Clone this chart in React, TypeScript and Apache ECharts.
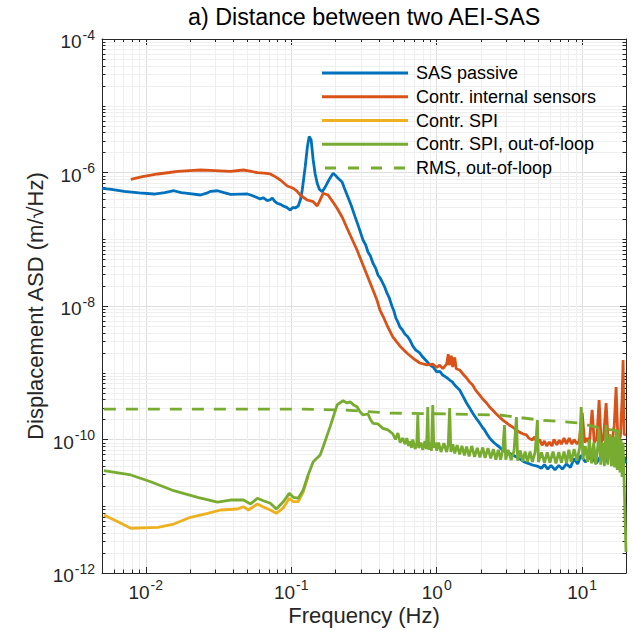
import React, { useEffect, useRef } from 'react';
import * as echarts from 'echarts';

const FONT = "'Liberation Sans', Arial, Helvetica, sans-serif";
const X_MIN = 0.005;
const X_MAX = 20;
const Y_MIN = 1e-12;
const Y_MAX = 1e-4;

const seriesNames = [
  'SAS passive',
  'Contr. internal sensors',
  'Contr. SPI',
  'Contr. SPI, out-of-loop',
  'RMS, out-of-loop',
];

const sasPassive: [number, number][] = [
  [0.005, 5.8e-7], [0.0058, 5.6e-7], [0.0071, 5.2e-7], [0.009, 4.95e-7], [0.0114, 4.76e-7], [0.0135, 5.0e-7],
  [0.0156, 5.33e-7], [0.0175, 5.0e-7], [0.0194, 4.88e-7], [0.0238, 4.6e-7], [0.0262, 4.9e-7], [0.0279, 5.22e-7],
  [0.0311, 5.33e-7], [0.0345, 5.0e-7], [0.0382, 4.71e-7], [0.045, 4.75e-7], [0.05, 4.76e-7], [0.0525, 4.6e-7],
  [0.057, 4.3e-7], [0.0613, 4.01e-7], [0.064, 4.2e-7], [0.0685, 3.78e-7], [0.0715, 3.9e-7], [0.0741, 4.15e-7],
  [0.077, 3.7e-7], [0.0802, 3.46e-7], [0.085, 3.3e-7], [0.0881, 3.15e-7], [0.093, 3.0e-7], [0.0984, 2.74e-7],
  [0.1025, 3.0e-7], [0.1064, 2.94e-7], [0.1117, 3.15e-7], [0.116, 4.0e-7], [0.119, 5.47e-7], [0.1247, 1.22e-6],
  [0.129, 2.4e-6], [0.1328, 3.46e-6], [0.137, 3.07e-6], [0.1415, 1.54e-6], [0.146, 9.5e-7], [0.1508, 6.89e-7],
  [0.156, 5.6e-7], [0.163, 5.15e-7], [0.17, 5.9e-7], [0.1765, 6.89e-7], [0.185, 8.3e-7], [0.194, 9.73e-7],
  [0.202, 9.0e-7], [0.21, 8.18e-7], [0.2236, 7.21e-7], [0.232, 5.8e-7], [0.242, 4.6e-7], [0.2577, 3.26e-7],
  [0.2744, 2.18e-7], [0.2922, 1.48e-7], [0.3112, 9.75e-8], [0.325, 8.2e-8], [0.3367, 6.44e-8], [0.35, 5.6e-8],
  [0.3646, 4.37e-8], [0.38, 3.7e-8], [0.3945, 2.91e-8], [0.41, 2.6e-8], [0.4266, 2.19e-8], [0.44, 1.9e-8],
  [0.4545, 1.57e-8], [0.47, 1.35e-8], [0.492, 1.0e-8], [0.508, 8.4e-9], [0.524, 6.6e-9], [0.54, 5.8e-9],
  [0.558, 4.84e-9], [0.58, 4.4e-9], [0.604, 3.8e-9], [0.63, 3.5e-9], [0.653, 3.1e-9], [0.685, 2.5e-9],
  [0.718, 2.19e-9], [0.76, 2.0e-9], [0.802, 1.72e-9], [0.85, 1.5e-9], [0.896, 1.31e-9], [0.95, 1.2e-9],
  [1.0, 1.03e-9], [1.05, 1.05e-9], [1.099, 9.24e-10], [1.16, 8.6e-10], [1.227, 7.78e-10], [1.28, 7.3e-10],
  [1.328, 6.55e-10], [1.38, 6.0e-10], [1.438, 5.52e-10], [1.52, 4.4e-10], [1.604, 3.52e-10], [1.68, 3.0e-10],
  [1.765, 2.49e-10], [1.86, 2.1e-10], [1.97, 1.77e-10], [2.05, 1.55e-10], [2.13, 1.39e-10], [2.22, 1.2e-10],
  [2.31, 1.05e-10], [2.4, 9.6e-11], [2.49, 8.87e-11], [2.6, 8.2e-11], [2.7, 7.72e-11], [2.85, 6.8e-11],
  [3.06, 6.5e-11], [3.25, 6.0e-11], [3.53, 5.47e-11], [3.75, 5.1e-11], [4.0, 4.6e-11], [4.25, 4.4e-11],
  [4.54, 4.15e-11], [4.9, 4.0e-11], [5.24, 3.7e-11], [5.5, 4.2e-11], [5.8, 3.6e-11], [6.1, 4.1e-11],
  [6.5, 3.5e-11], [6.9, 4.1e-11], [7.3, 3.6e-11], [7.8, 4.3e-11], [8.3, 3.8e-11], [8.8, 5.2e-11],
  [9.3, 4.3e-11], [9.8, 5.8e-11], [10.5, 4.6e-11], [11.5, 5.6e-11], [12.5, 4.4e-11], [13.5, 5.8e-11],
  [14.5, 4.6e-11], [15.5, 6.2e-11], [16.5, 4.8e-11], [17.5, 6.0e-11], [18.5, 4.5e-11], [19.5, 5.5e-11],
  [20, 4.4e-11],
];

const internalSensors: [number, number][] = [
  [0.00789, 7.91e-7], [0.0095, 8.7e-7], [0.0121, 9.5e-7], [0.0145, 1.0e-6], [0.01657, 1.04e-6], [0.02, 1.07e-6],
  [0.0238, 1.09e-6], [0.03, 1.07e-6], [0.0382, 1.04e-6], [0.0469, 1.09e-6], [0.052, 1.05e-6], [0.0585, 9.93e-7],
  [0.065, 9.8e-7], [0.0718, 9.5e-7], [0.078, 8.6e-7], [0.0841, 7.73e-7], [0.0939, 6.28e-7], [0.1032, 5.8e-7],
  [0.109, 5.3e-7], [0.1153, 4.6e-7], [0.1288, 3.87e-7], [0.1415, 3.65e-7], [0.1508, 3.15e-7], [0.158, 3.9e-7],
  [0.1657, 4.88e-7], [0.179, 4.6e-7], [0.192, 3.7e-7], [0.2066, 2.91e-7], [0.225, 2.1e-7], [0.242, 1.46e-7],
  [0.262, 1.0e-7], [0.2832, 6.9e-8], [0.3112, 4.1e-8], [0.3316, 2.91e-8], [0.3646, 1.74e-8], [0.388, 1.23e-8],
  [0.4073, 8.7e-9], [0.43, 6.84e-9], [0.4545, 5.19e-9], [0.5, 3.43e-9], [0.558, 2.52e-9], [0.623, 1.98e-9],
  [0.685, 1.66e-9], [0.765, 1.4e-9], [0.855, 1.31e-9], [0.939, 1.35e-9], [1.0, 1.2e-9], [1.048, 1.3e-9],
  [1.1, 1.15e-9], [1.17, 1.35e-9], [1.2, 1.9e-9], [1.22, 1.3e-9], [1.26, 1.8e-9], [1.287, 1.22e-9],
  [1.33, 1.7e-9], [1.36, 1.15e-9], [1.438, 1.1e-9], [1.52, 9.5e-10], [1.604, 8.34e-10], [1.68, 7.3e-10],
  [1.765, 6.55e-10], [1.86, 5.4e-10], [1.97, 4.65e-10], [2.08, 4.0e-10], [2.2, 3.52e-10], [2.3, 3.1e-10],
  [2.42, 2.77e-10], [2.55, 2.45e-10], [2.7, 2.17e-10], [2.85, 1.95e-10], [3.02, 1.77e-10], [3.15, 1.65e-10],
  [3.32, 1.54e-10], [3.5, 1.4e-10], [3.7, 1.29e-10], [3.9, 1.22e-10], [4.13, 1.17e-10], [4.3, 1.05e-10],
  [4.54, 9.8e-11], [4.7, 1.1e-10], [4.9, 8.8e-11], [5.1, 1.0e-10], [5.3, 8.2e-11], [5.5, 9.5e-11],
  [5.7, 8.0e-11], [5.94, 9.2e-11], [6.2, 8.0e-11], [6.4, 1.0e-10], [6.7, 8.3e-11], [6.96, 9.8e-11],
  [7.2, 8.5e-11], [7.5, 1.05e-10], [7.8, 8.6e-11], [8.14, 1.05e-10], [8.5, 8.5e-11], [8.8, 1.0e-10],
  [9.2, 8.6e-11], [9.54, 9.5e-11], [10.0, 2.5e-10], [10.4, 9.0e-11], [10.8, 1.05e-10], [11.2, 8.8e-11],
  [11.7, 2.77e-10], [12.1, 9.0e-11], [12.6, 1.05e-10], [13.07, 3.91e-10], [13.5, 9.0e-11], [14.0, 1.05e-10],
  [14.6, 3.52e-10], [15.1, 9.0e-11], [15.6, 1.1e-10], [16.0, 9.2e-11], [16.6, 1.6e-10], [17.1, 6.12e-10],
  [17.6, 9.6e-11], [18.3, 1.1e-10], [18.8, 4.0e-10], [19.1, 1.55e-9], [19.4, 1.2e-10], [20, 1.17e-10],
];

const spiInLoop: [number, number][] = [
  [0.00515, 7.4e-12], [0.00643, 5.88e-12], [0.00789, 4.68e-12], [0.0121, 4.84e-12], [0.01556, 5.42e-12],
  [0.0203, 6.83e-12], [0.0266, 7.83e-12], [0.0327, 8.79e-12], [0.0427, 9.1e-12], [0.0469, 9.85e-12],
  [0.0508, 8.79e-12], [0.0585, 1.08e-11], [0.0643, 9.76e-12], [0.0718, 8.79e-12], [0.0789, 7.83e-12],
  [0.0881, 9.42e-12], [0.0969, 1.32e-11], [0.1032, 1.17e-11], [0.1117, 1.17e-11], [0.1208, 1.63e-11],
  [0.1306, 2.84e-11],
];

const spiOutOfLoop: [number, number][] = [
  [0.00515, 3.41e-11], [0.00789, 2.94e-11], [0.0108, 2.33e-11], [0.01556, 1.71e-11], [0.0227, 1.36e-11],
  [0.0311, 1.15e-11], [0.0382, 1.24e-11], [0.0469, 1.24e-11], [0.0525, 1.08e-11], [0.0585, 1.32e-11],
  [0.0643, 1.21e-11], [0.0718, 1.11e-11], [0.0789, 9.1e-12], [0.0881, 1.17e-11], [0.0969, 1.56e-11],
  [0.1032, 1.36e-11], [0.1117, 1.32e-11], [0.1208, 1.75e-11], [0.1306, 2.94e-11], [0.1415, 4.65e-11],
  [0.158, 5.86e-11], [0.1657, 7.8e-11], [0.175, 1.1e-10], [0.185, 1.56e-10], [0.196, 2.3e-10],
  [0.2066, 3.29e-10], [0.227, 3.81e-10], [0.242, 3.52e-10], [0.2535, 3.68e-10], [0.268, 3.3e-10],
  [0.2832, 3.1e-10], [0.297, 2.6e-10], [0.3112, 2.33e-10], [0.3367, 2.41e-10], [0.35, 2.0e-10],
  [0.3646, 1.75e-10], [0.3945, 1.71e-10], [0.4266, 1.47e-10], [0.4616, 1.39e-10], [0.5, 1.21e-10],
  [0.52, 1.0e-10], [0.5408, 1.25e-10], [0.56, 9.0e-11], [0.585, 1.05e-10], [0.605, 8.5e-11], [0.623, 1.05e-10],
  [0.64, 8.0e-11], [0.653, 9.5e-11], [0.67, 7.5e-11], [0.685, 1.0e-10], [0.71, 7.2e-11], [0.73, 9.0e-11],
  [0.741, 2.33e-10], [0.752, 7.5e-11], [0.78, 9.0e-11], [0.802, 7.0e-11], [0.83, 9.5e-11], [0.85, 7.2e-11],
  [0.868, 3.07e-10], [0.88, 7.0e-11], [0.9, 9.0e-11], [0.92, 6.8e-11], [0.939, 3.29e-10], [0.955, 7.5e-11],
  [0.98, 9.0e-11], [1.0, 6.8e-11], [1.03, 9.0e-11], [1.07, 6.5e-11], [1.12, 8.8e-11], [1.17, 6.5e-11],
  [1.2, 8.5e-11], [1.227, 2.96e-10], [1.25, 6.5e-11], [1.29, 8.5e-11], [1.33, 6.2e-11], [1.38, 8.2e-11],
  [1.438, 6.0e-11], [1.49, 8.0e-11], [1.55, 5.8e-11], [1.604, 7.8e-11], [1.67, 5.6e-11], [1.74, 8.0e-11],
  [1.82, 5.5e-11], [1.9, 7.5e-11], [1.98, 5.4e-11], [2.07, 7.6e-11], [2.15, 5.3e-11], [2.25, 7.4e-11],
  [2.35, 5.2e-11], [2.45, 7.2e-11], [2.55, 5.0e-11], [2.65, 7.0e-11], [2.75, 5.0e-11], [2.85, 7.2e-11],
  [2.92, 1.65e-10], [2.98, 5.0e-11], [3.1, 7.0e-11], [3.25, 4.9e-11], [3.4, 6.8e-11], [3.53, 2.17e-10],
  [3.6, 4.8e-11], [3.75, 6.8e-11], [3.9, 4.7e-11], [4.05, 6.6e-11], [4.2, 4.6e-11], [4.38, 6.6e-11],
  [4.54, 4.6e-11], [4.75, 6.5e-11], [4.92, 1.96e-10], [5.0, 4.6e-11], [5.25, 6.4e-11], [5.5, 4.5e-11],
  [5.75, 6.4e-11], [6.0, 4.5e-11], [6.3, 6.6e-11], [6.6, 4.4e-11], [6.9, 6.5e-11], [7.2, 4.5e-11],
  [7.5, 6.6e-11], [7.8, 4.4e-11], [8.1, 7.0e-11], [8.4, 4.6e-11], [8.8, 7.2e-11], [9.2, 4.8e-11],
  [9.6, 7.5e-11], [9.84, 3.07e-10], [10.1, 5.0e-11], [10.5, 8.0e-11], [10.9, 4.6e-11], [11.2, 1.0e-10],
  [11.6, 4.4e-11], [12.0, 9.0e-11], [12.4, 4.2e-11], [12.8, 8.0e-11], [13.07, 1.39e-10], [13.4, 4.2e-11],
  [13.8, 9.0e-11], [14.2, 4.0e-11], [14.6, 1.65e-10], [15.0, 4.2e-11], [15.5, 1.2e-10], [15.9, 4.0e-11],
  [16.3, 1.1e-10], [16.7, 3.8e-11], [17.1, 1.3e-10], [17.4, 3.5e-11], [17.8, 1.4e-10], [18.2, 3.2e-11],
  [18.5, 1.0e-10], [18.8, 2.74e-11], [19.1, 9.0e-11], [19.5, 1.58e-11], [20, 2.07e-12],
];

const rmsOutOfLoop: [number, number][] = [
  [0.00515, 2.86e-10], [0.0238, 2.86e-10], [0.1153, 2.86e-10], [0.227, 2.77e-10], [0.4766, 2.49e-10],
  [1.227, 2.41e-10], [2.7, 2.33e-10], [5.07, 1.96e-10], [9.54, 1.77e-10], [13.07, 1.49e-10], [19.7, 1.29e-10],
];

const seriesData = [sasPassive, internalSensors, spiInLoop, spiOutOfLoop, rmsOutOfLoop];
const seriesColors = ['#0072BD', '#D95319', '#EDB120', '#77AC30', '#77AC30'];

const GRID = { left: 102, top: 39, width: 524, height: 534 };
const AXIS_COLOR = '#262626';
const MAJOR_GRID = '#dedede';
const MINOR_GRID = '#efefef';
const DASH_ICON = 'path://M0,0h11v3h-11z M23,0h11v3h-11z M46,0h11v3h-11z M69,0h11v3h-11z';

function minorValues(lo: number, hi: number, fromExp: number, toExp: number, oddDecades: boolean) {
  const out: number[] = [];
  for (let d = fromExp; d <= toExp; d++) {
    for (let k = 1; k <= 9; k++) {
      if (k === 1 && !(oddDecades && Math.abs(d) % 2 === 1)) continue;
      const v = k * Math.pow(10, d);
      if (v > lo * 1.0001 && v < hi * 0.9999) out.push(v);
    }
  }
  return out;
}

const xMinor = minorValues(X_MIN, X_MAX, -3, 1, false);
const yMinor = minorValues(Y_MIN, Y_MAX, -12, -5, true);

function expLabel(v: number, every: number) {
  const e = Math.round(Math.log10(v));
  if (Math.abs(v / Math.pow(10, e) - 1) > 1e-6) return '';
  if (e % every !== 0) return '';
  return `{b|10}{s|${e}}`;
}

const labelRich = {
  b: { fontSize: 19, fontFamily: FONT, color: AXIS_COLOR, verticalAlign: 'middle', padding: [0, 0, 3, 0] },
  s: { fontSize: 14, fontFamily: FONT, color: AXIS_COLOR, verticalAlign: 'middle', padding: [0, 0, 17, 1] },
};

export default function App() {
  const ref = useRef<HTMLDivElement>(null);
  useEffect(() => {
    if (!ref.current) return;
    const chart = echarts.init(ref.current, null, { renderer: 'svg' });

    const lineSeries = seriesNames.map((name, i) => ({
      name,
      type: 'line',
      data: seriesData[i],
      symbol: 'none',
      showSymbol: false,
      z: 3,
      lineStyle: {
        color: seriesColors[i],
        width: 2.8,
        type: i === 4 ? [12, 10] : 'solid',
      },
      itemStyle: { color: seriesColors[i] },
      emphasis: { disabled: true },
    }));

    const xMinorSeries = {
      type: 'custom',
      silent: true,
      z: 1,
      data: xMinor.map((v) => [v, Y_MIN]),
      encode: { x: 0, y: 1 },
      renderItem: (_p: any, api: any) => {
        const v = api.value(0);
        const b = api.coord([v, Y_MIN]);
        const t = api.coord([v, Y_MAX]);
        const x = Math.round(b[0]) + 0.5;
        return {
          type: 'group',
          children: [
            { type: 'line', shape: { x1: x, y1: t[1], x2: x, y2: b[1] }, style: { stroke: MINOR_GRID, lineWidth: 1 } },
            { type: 'line', shape: { x1: x, y1: b[1], x2: x, y2: b[1] - 3.5 }, style: { stroke: AXIS_COLOR, lineWidth: 1 } },
            { type: 'line', shape: { x1: x, y1: t[1], x2: x, y2: t[1] + 3.5 }, style: { stroke: AXIS_COLOR, lineWidth: 1 } },
          ],
        };
      },
    };

    const yMinorSeries = {
      type: 'custom',
      silent: true,
      z: 1,
      data: yMinor.map((v) => [X_MIN, v]),
      encode: { x: 0, y: 1 },
      renderItem: (_p: any, api: any) => {
        const v = api.value(1);
        const l = api.coord([X_MIN, v]);
        const r = api.coord([X_MAX, v]);
        const y = Math.round(l[1]) + 0.5;
        return {
          type: 'group',
          children: [
            { type: 'line', shape: { x1: l[0], y1: y, x2: r[0], y2: y }, style: { stroke: MINOR_GRID, lineWidth: 1 } },
            { type: 'line', shape: { x1: l[0], y1: y, x2: l[0] + 3.5, y2: y }, style: { stroke: AXIS_COLOR, lineWidth: 1 } },
            { type: 'line', shape: { x1: r[0], y1: y, x2: r[0] - 3.5, y2: y }, style: { stroke: AXIS_COLOR, lineWidth: 1 } },
          ],
        };
      },
    };

    const axisLine = { show: true, onZero: false, lineStyle: { color: AXIS_COLOR, width: 1 } };
    const axisTick = { show: true, inside: true, length: 6, lineStyle: { color: AXIS_COLOR, width: 1 } };

    chart.setOption({
      animation: false,
      backgroundColor: '#ffffff',
      title: {
        text: 'a) Distance between two AEI-SAS',
        left: 188,
        top: 5,
        padding: 0,
        textStyle: { fontFamily: FONT, fontSize: 23.3, fontWeight: 'normal', color: '#000000' },
      },
      legend: {
        data: seriesNames.map((name, i) => ({ name, icon: i === 4 ? DASH_ICON : 'rect' })),
        orient: 'vertical',
        left: 322,
        top: 63,
        padding: 0,
        itemWidth: 86,
        itemHeight: 3,
        itemGap: 3.75,
        selectedMode: false,
        textStyle: { fontFamily: FONT, fontSize: 18, color: '#000000', lineHeight: 20, padding: [0, 0, 0, 3] },
      },
      grid: { ...GRID, containLabel: false, outerBoundsMode: 'none' },
      xAxis: [
        {
          type: 'log',
          logBase: 10,
          min: X_MIN,
          max: X_MAX,
          position: 'bottom',
          axisLine,
          axisTick,
          splitLine: { show: true, lineStyle: { color: MAJOR_GRID, width: 1 } },
          axisLabel: {
            margin: 5,
            color: AXIS_COLOR,
            formatter: (v: number) => expLabel(v, 1),
            rich: labelRich,
            showMinLabel: false,
            showMaxLabel: false,
          },
          name: 'Frequency (Hz)',
          nameLocation: 'middle',
          nameGap: 31,
          nameMoveOverlap: false,
          nameTextStyle: { fontFamily: FONT, fontSize: 22, color: AXIS_COLOR },
        },
        {
          type: 'log',
          logBase: 10,
          min: X_MIN,
          max: X_MAX,
          position: 'top',
          axisLine,
          axisTick,
          splitLine: { show: false },
          axisLabel: { show: false },
        },
      ],
      yAxis: [
        {
          type: 'log',
          logBase: 10,
          min: Y_MIN,
          max: Y_MAX,
          interval: 2,
          position: 'left',
          axisLine,
          axisTick,
          splitLine: { show: true, lineStyle: { color: MAJOR_GRID, width: 1 } },
          axisLabel: {
            margin: 7,
            padding: [8, 0, 0, 0],
            color: AXIS_COLOR,
            formatter: (v: number) => expLabel(v, 2),
            rich: labelRich,
          },
          name: 'Displacement ASD (m/\u221AHz)',
          nameLocation: 'middle',
          nameGap: 56,
          nameMoveOverlap: false,
          nameTextStyle: { fontFamily: FONT, fontSize: 22, color: AXIS_COLOR },
        },
        {
          type: 'log',
          logBase: 10,
          min: Y_MIN,
          max: Y_MAX,
          interval: 2,
          position: 'right',
          axisLine,
          axisTick,
          splitLine: { show: false },
          axisLabel: { show: false },
        },
      ],
      series: [xMinorSeries, yMinorSeries, ...lineSeries],
    });

    return () => chart.dispose();
  }, []);

  return (
    <div
      ref={ref}
      style={{ position: 'absolute', left: 0, top: 0, width: 633, height: 635, background: '#ffffff' }}
    />
  );
}
